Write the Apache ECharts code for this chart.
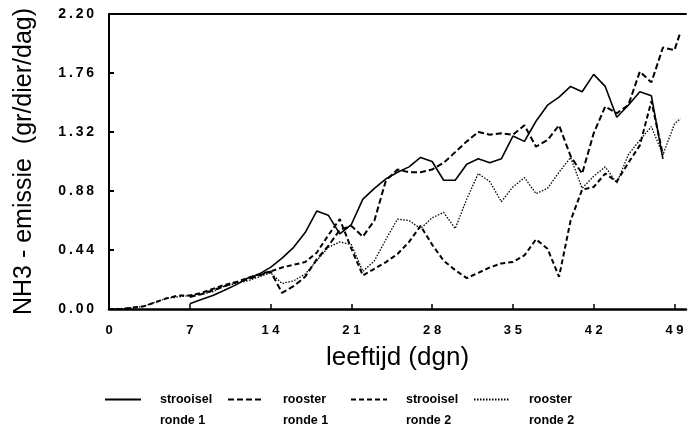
<!DOCTYPE html>
<html>
<head>
<meta charset="utf-8">
<script src="https://cdn.jsdelivr.net/npm/echarts@6/dist/echarts.min.js"></script>
<style>
  html, body { margin: 0; padding: 0; background: #fff; }
  #chart { width: 688px; height: 432px; }
</style>
</head>
<body>
<div id="chart"></div>
<script>
// leeftijd in dagen, NH3-emissie in gr/dier/dag
var dagenStrooisel1 = [7, 8, 9, 10, 11, 12, 13, 14, 15, 16, 17, 18, 19, 20, 21, 22, 23, 24, 25, 26, 27, 28,
  29, 30, 31, 32, 33, 34, 35, 36, 37, 38, 39, 40, 41, 42, 43, 44, 45, 46, 47, 48];
var strooisel1 = [0.04, 0.07, 0.10, 0.14, 0.18, 0.23, 0.26, 0.31, 0.38, 0.46, 0.57, 0.73, 0.70, 0.56, 0.63, 0.82,
  0.90, 0.97, 1.02, 1.06, 1.13, 1.10, 0.96, 0.96, 1.08, 1.12, 1.09, 1.12, 1.29, 1.25, 1.40, 1.52, 1.58, 1.66,
  1.62, 1.75, 1.66, 1.43, 1.52, 1.62, 1.59, 1.12];

var dagenRooster1 = [7, 8, 9, 10, 11, 12, 13, 14, 15, 16, 17, 18, 19, 20, 21, 22, 23, 24, 25, 26, 27, 28,
  29, 30, 31, 32, 33, 34, 35, 36, 37, 38, 39, 40, 41, 42, 43, 44, 45, 46, 47, 48, 49, 49.5];
var rooster1 = [0.09, 0.11, 0.14, 0.17, 0.20, 0.22, 0.25, 0.28, 0.12, 0.17, 0.24, 0.37, 0.47, 0.59, 0.62, 0.54,
  0.66, 0.96, 1.04, 1.02, 1.02, 1.04, 1.09, 1.17, 1.25, 1.32, 1.30, 1.31, 1.30, 1.37, 1.21, 1.26, 1.37, 1.14,
  1.01, 1.31, 1.51, 1.46, 1.52, 1.77, 1.69, 1.95, 1.93, 2.06];

var dagenStrooisel2 = [0, 1, 2, 3, 4, 5, 6, 7, 8, 9, 10, 11, 12, 13, 14, 15, 16, 17, 18, 19, 20, 21, 22, 23,
  24, 25, 26, 27, 28, 29, 30, 31, 32, 33, 34, 35, 36, 37, 38, 39, 40, 41, 42, 43, 44, 45, 46, 47, 48];
var strooisel2 = [0.00, 0.00, 0.01, 0.02, 0.05, 0.08, 0.10, 0.10, 0.12, 0.15, 0.18, 0.20, 0.23, 0.26, 0.28,
  0.31, 0.33, 0.35, 0.42, 0.55, 0.67, 0.45, 0.25, 0.30, 0.35, 0.41, 0.50, 0.62, 0.48, 0.36, 0.29, 0.23, 0.27,
  0.31, 0.34, 0.35, 0.40, 0.52, 0.45, 0.24, 0.66, 0.89, 0.91, 1.01, 0.95, 1.09, 1.22, 1.55, 1.15];

var dagenRooster2 = [0, 1, 2, 3, 4, 5, 6, 7, 8, 9, 10, 11, 12, 13, 14, 15, 16, 17, 18, 19, 20, 21, 22, 23,
  24, 25, 26, 27, 28, 29, 30, 31, 32, 33, 34, 35, 36, 37, 38, 39, 40, 41, 42, 43, 44, 45, 46, 47, 48, 49, 49.5];
var rooster2 = [0.00, 0.00, 0.01, 0.02, 0.05, 0.08, 0.09, 0.10, 0.11, 0.13, 0.17, 0.19, 0.21, 0.24, 0.27,
  0.19, 0.21, 0.26, 0.36, 0.46, 0.50, 0.48, 0.28, 0.36, 0.52, 0.67, 0.66, 0.60, 0.68, 0.72, 0.60, 0.82, 1.01,
  0.95, 0.80, 0.91, 0.98, 0.86, 0.90, 1.02, 1.13, 0.90, 0.99, 1.06, 0.94, 1.15, 1.26, 1.36, 1.15, 1.38, 1.42];

var reeksNamen = ['strooisel\nronde 1', 'rooster\nronde 1', 'strooisel\nronde 2', 'rooster\nronde 2'];

function paren(dagen, waarden) {
  return dagen.map(function (d, i) { return [d, waarden[i]]; });
}

var font = '"Liberation Sans", Arial, sans-serif';

function lijn(naam, dagen, waarden, type, breedte) {
  return {
    name: naam,
    type: 'line',
    data: paren(dagen, waarden),
    symbol: 'none',
    silent: true,
    itemStyle: { color: '#000' },
    lineStyle: { color: '#000', width: breedte, type: type }
  };
}

var myChart = echarts.init(document.getElementById('chart'));
var option = {
  animation: false,
  backgroundColor: '#fff',
  grid: { left: 109, right: 2, top: 14, bottom: 123 },
  legend: {
    left: 99,
    top: 363,
    itemWidth: 36,
    itemHeight: 10,
    itemGap: 5,
    selectedMode: false,
    itemStyle: { opacity: 0 },
    data: reeksNamen,
    // lege eerste regel zodat het lijntje naast de eerste tekstregel staat
    formatter: function (naam) { return ' \n' + naam; },
    textStyle: {
      fontFamily: font,
      fontWeight: 'bold',
      fontSize: 12.5,
      color: '#000',
      lineHeight: 21,
      width: 62,
      padding: [0, 0, 0, 14]
    }
  },
  xAxis: [{
    type: 'value',
    min: 0,
    max: 50,
    interval: 7,
    name: 'leeftijd (dgn)',
    nameLocation: 'middle',
    nameGap: 36,
    nameTextStyle: { fontFamily: font, fontSize: 26, color: '#000' },
    splitLine: { show: false },
    axisLine: { lineStyle: { color: '#000', width: 2.5 } },
    axisTick: { inside: true, length: 5, lineStyle: { color: '#000', width: 1.5 } },
    axisLabel: {
      margin: 15,
      showMaxLabel: false,
      fontFamily: font,
      fontWeight: 'bold',
      fontSize: 13,
      color: '#000',
      formatter: function (v) { return v === 0 ? '0' : String(v).split('').join(' '); }
    }
  }, {
    type: 'value',
    position: 'top',
    min: 0,
    max: 50,
    splitLine: { show: false },
    axisLine: { show: true, lineStyle: { color: '#000', width: 2 } },
    axisTick: { show: false },
    axisLabel: { show: false }
  }],
  yAxis: {
    type: 'value',
    min: 0,
    max: 2.2,
    interval: 0.44,
    name: 'NH3 - emissie  (gr/dier/dag)',
    nameLocation: 'middle',
    nameGap: 72,
    nameTextStyle: { fontFamily: font, fontSize: 25, color: '#000' },
    splitLine: { show: false },
    axisLine: { show: true, lineStyle: { color: '#000', width: 2 } },
    axisTick: { inside: true, length: 5, lineStyle: { color: '#000', width: 2 } },
    axisLabel: {
      margin: 15,
      fontFamily: font,
      fontWeight: 'bold',
      fontSize: 14,
      color: '#000',
      formatter: function (v) { return v.toFixed(2).split('').join('\u2009'); }
    }
  },
  series: [
    lijn(reeksNamen[0], dagenStrooisel1, strooisel1, 'solid', 1.6),
    lijn(reeksNamen[1], dagenRooster1, rooster1, [6, 3], 2),
    lijn(reeksNamen[2], dagenStrooisel2, strooisel2, [5, 3], 2),
    lijn(reeksNamen[3], dagenRooster2, rooster2, [1.5, 1.5], 1.3)
  ]
};
myChart.setOption(option);
window.onresize = function () {
  myChart.resize();
};
</script>
</body>
</html>
